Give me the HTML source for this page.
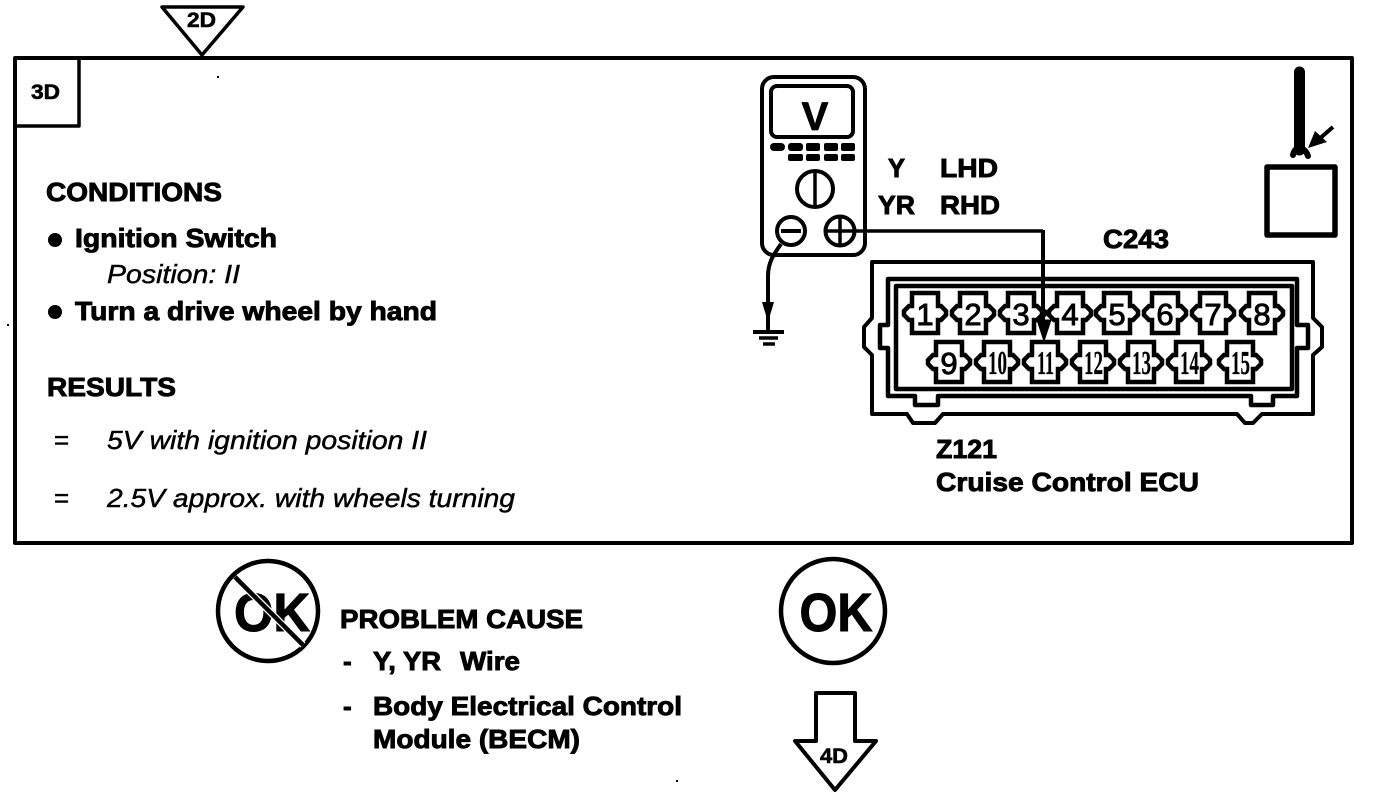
<!DOCTYPE html>
<html><head><meta charset="utf-8"><style>
html,body{margin:0;padding:0;background:#fff;width:1376px;height:800px;overflow:hidden}
svg{display:block}
text{font-family:"Liberation Sans",sans-serif;fill:#000}
.b{font-weight:bold;font-size:26px;stroke:#000;stroke-width:.9}
.i{font-style:italic;font-size:26px;stroke:#000;stroke-width:.45}
.n{font-size:31px;text-anchor:middle;stroke:#000;stroke-width:.9}
.s{font-size:34px;font-weight:bold;font-family:"Liberation Serif",serif;stroke:#000;stroke-width:.3}
.t{font-size:21px;font-weight:bold;stroke:#000;stroke-width:.6}
.l{fill:none;stroke:#000;stroke-linejoin:round}
.m{fill:none;stroke:#000;stroke-linejoin:miter}
</style></head><body>
<svg width="1376" height="800" viewBox="0 0 1376 800" xmlns="http://www.w3.org/2000/svg">
<defs>
<path id="cav" class="m" stroke-width="4.5" d="M-13,-20H13V-7H16L21,-2V2L16,7H13V20H-13V7H-16L-21,2V-2L-16,-7H-13Z"/>
</defs>

<!-- frame -->
<rect x="15" y="58" width="1337" height="485" class="l" stroke-width="4"/>
<rect x="15" y="58" width="64" height="68" class="l" stroke-width="3.5"/>
<text class="t" x="31" y="99" textLength="29" lengthAdjust="spacingAndGlyphs">3D</text>

<!-- 2D triangle -->
<path d="M162,7H243L202,55Z" class="l" stroke-width="3.5" fill="#fff"/>
<text class="t" x="187" y="27" textLength="29" lengthAdjust="spacingAndGlyphs">2D</text>

<!-- left text -->
<text class="b" x="46" y="201" textLength="176" lengthAdjust="spacingAndGlyphs">CONDITIONS</text>
<circle cx="55" cy="240" r="7"/>
<text class="b" x="75" y="247" textLength="202" lengthAdjust="spacingAndGlyphs">Ignition Switch</text>
<text class="i" x="107" y="283" textLength="133" lengthAdjust="spacingAndGlyphs">Position: II</text>
<circle cx="55" cy="312" r="7"/>
<text class="b" x="75" y="320" textLength="362" lengthAdjust="spacingAndGlyphs">Turn a drive wheel by hand</text>
<text class="b" x="47" y="396" textLength="129" lengthAdjust="spacingAndGlyphs">RESULTS</text>
<text class="i" x="54" y="449" style="font-style:normal">=</text>
<text class="i" x="107" y="449" textLength="320" lengthAdjust="spacingAndGlyphs">5V with ignition position II</text>
<text class="i" x="54" y="507" style="font-style:normal">=</text>
<text class="i" x="107" y="507" textLength="408" lengthAdjust="spacingAndGlyphs">2.5V approx. with wheels turning</text>

<!-- meter -->
<rect x="762" y="77" width="103" height="178" rx="12" class="l" stroke-width="4" fill="#fff"/>
<rect x="771" y="86" width="82" height="51" rx="6" class="l" stroke-width="4"/>
<text x="815" y="130" text-anchor="middle" style="font-size:40px;font-weight:bold;stroke:#000;stroke-width:.8">V</text>
<g>
<rect x="770" y="143" width="15" height="8" rx="4"/><rect x="788" y="143" width="15" height="8" rx="3"/><rect x="806" y="143" width="14" height="8" rx="2"/><rect x="824" y="143" width="14" height="8" rx="2"/><rect x="841" y="143" width="14" height="8" rx="2"/>
<rect x="788" y="154" width="15" height="7" rx="2"/><rect x="806" y="154" width="14" height="7" rx="2"/><rect x="824" y="154" width="14" height="7" rx="2"/><rect x="841" y="154" width="14" height="7" rx="2"/>
</g>
<circle cx="815" cy="189" r="18" class="l" stroke-width="4"/>
<path d="M815,171V207" class="l" stroke-width="3.5"/>
<circle cx="791" cy="231" r="14" class="l" stroke-width="4" fill="#fff"/>
<path d="M781,231H801" class="l" stroke-width="4"/>
<circle cx="840" cy="231" r="14.5" class="l" stroke-width="4" fill="#fff"/>
<path d="M826,231H1043M840,217V245" class="l" stroke-width="3.5"/>

<!-- ground wire -->
<path d="M781,244C774,254 768,262 768,276V332" class="l" stroke-width="4"/>
<path d="M762,302H774L768,322Z"/>
<path d="M753,332H784" class="l" stroke-width="4"/>
<path d="M759,338H778" class="l" stroke-width="3.5"/>
<path d="M763,344H775" class="l" stroke-width="3.5"/>

<!-- Y/LHD labels -->
<text class="b" x="888" y="177" textLength="17" lengthAdjust="spacingAndGlyphs">Y</text>
<text class="b" x="940" y="177" textLength="58" lengthAdjust="spacingAndGlyphs">LHD</text>
<text class="b" x="878" y="214" textLength="37" lengthAdjust="spacingAndGlyphs">YR</text>
<text class="b" x="940" y="214" textLength="60" lengthAdjust="spacingAndGlyphs">RHD</text>
<text class="b" x="1103" y="248" textLength="66" lengthAdjust="spacingAndGlyphs">C243</text>

<!-- connector -->
<path class="l" stroke-width="4" d="M872,262H1313V318L1322,327V347L1313,355V414H1262L1253,423H1245L1237,414H943L935,423H913L907,414H872V355L864,347V327L872,318Z"/>
<path class="l" stroke-width="4.5" d="M888,279H1297V325H1308V348H1297V396H1273V405H1251V396H938V405H915V396H888V348H880V325H888Z"/>
<rect x="896" y="286" width="396" height="103" class="l" stroke-width="4.5"/>

<use href="#cav" x="925" y="313"/><use href="#cav" x="973" y="313"/><use href="#cav" x="1021" y="313"/><use href="#cav" x="1070" y="313"/><use href="#cav" x="1117" y="313"/><use href="#cav" x="1165" y="313"/><use href="#cav" x="1213" y="313"/><use href="#cav" x="1262" y="313"/>
<use href="#cav" x="949" y="362"/><use href="#cav" x="997" y="362"/><use href="#cav" x="1045" y="362"/><use href="#cav" x="1093" y="362"/><use href="#cav" x="1141" y="362"/><use href="#cav" x="1189" y="362"/><use href="#cav" x="1240" y="362"/>

<g>
<text class="n" x="925" y="325">1</text><text class="n" x="973" y="325">2</text><text class="n" x="1021" y="325">3</text><text class="n" x="1070" y="325">4</text><text class="n" x="1117" y="325">5</text><text class="n" x="1165" y="325">6</text><text class="n" x="1213" y="325">7</text><text class="n" x="1262" y="325">8</text>
<text class="n" x="949" y="374">9</text>
<text class="s" x="988" y="374" textLength="19" lengthAdjust="spacingAndGlyphs">10</text>
<text class="s" x="1037" y="374" textLength="17" lengthAdjust="spacingAndGlyphs">11</text>
<text class="s" x="1084" y="374" textLength="19" lengthAdjust="spacingAndGlyphs">12</text>
<text class="s" x="1132" y="374" textLength="19" lengthAdjust="spacingAndGlyphs">13</text>
<text class="s" x="1180" y="374" textLength="19" lengthAdjust="spacingAndGlyphs">14</text>
<text class="s" x="1231" y="374" textLength="19" lengthAdjust="spacingAndGlyphs">15</text>
</g>

<!-- probe wire -->
<path d="M1043,230V322" class="l" stroke-width="4"/>
<path d="M1037,320H1051L1044,341Z" stroke="#000" stroke-width="1"/>
<circle cx="1044" cy="313" r="4"/>

<text class="b" x="936" y="458" textLength="61" lengthAdjust="spacingAndGlyphs">Z121</text>
<text class="b" x="936" y="491" textLength="263" lengthAdjust="spacingAndGlyphs">Cruise Control ECU</text>

<!-- plug/box -->
<path d="M1299.5,72V150" stroke="#000" stroke-width="11" stroke-linecap="round" fill="none"/>
<path d="M1293,155C1294,150 1297,148 1299,148C1302,148 1306,150 1308,156" class="l" stroke-width="6" stroke-linecap="round"/>
<path d="M1333,127L1318,140" class="l" stroke-width="4"/>
<path d="M1308,148L1315,131L1327,142Z"/>
<rect x="1267" y="167" width="68" height="68" class="l" stroke-width="5.5"/>

<!-- no-OK -->
<circle cx="268" cy="611" r="50" class="l" stroke-width="4.5"/>
<text x="272" y="631" text-anchor="middle" style="font-size:54px;font-weight:bold;stroke:#000;stroke-width:1" textLength="76" lengthAdjust="spacingAndGlyphs">OK</text>
<path d="M235,577L303,645" stroke="#fff" stroke-width="7" fill="none"/>
<path d="M235,577L303,645" class="l" stroke-width="4.5"/>

<!-- OK -->
<circle cx="833" cy="611" r="52" class="l" stroke-width="4.5"/>
<text x="836" y="631" text-anchor="middle" style="font-size:54px;font-weight:bold;stroke:#000;stroke-width:1" textLength="73" lengthAdjust="spacingAndGlyphs">OK</text>

<!-- problem cause -->
<text class="b" x="340" y="628" textLength="243" lengthAdjust="spacingAndGlyphs">PROBLEM CAUSE</text>
<text class="b" x="343" y="670">-</text>
<text class="b" x="373" y="670" textLength="68" lengthAdjust="spacingAndGlyphs">Y, YR</text>
<text class="b" x="460" y="670" textLength="60" lengthAdjust="spacingAndGlyphs">Wire</text>
<text class="b" x="343" y="715">-</text>
<text class="b" x="373" y="715" textLength="309" lengthAdjust="spacingAndGlyphs">Body Electrical Control</text>
<text class="b" x="373" y="748" textLength="207" lengthAdjust="spacingAndGlyphs">Module (BECM)</text>

<!-- 4D arrow -->
<path d="M816,693H855V741H876L835,790L795,741H816Z" class="l" stroke-width="4" fill="#fff"/>
<text class="t" x="820" y="763" textLength="28" lengthAdjust="spacingAndGlyphs">4D</text>

<!-- specks -->
<rect x="217" y="76" width="2" height="2"/><rect x="7" y="324" width="2" height="2"/><rect x="676" y="780" width="2" height="2"/>
</svg>
</body></html>
